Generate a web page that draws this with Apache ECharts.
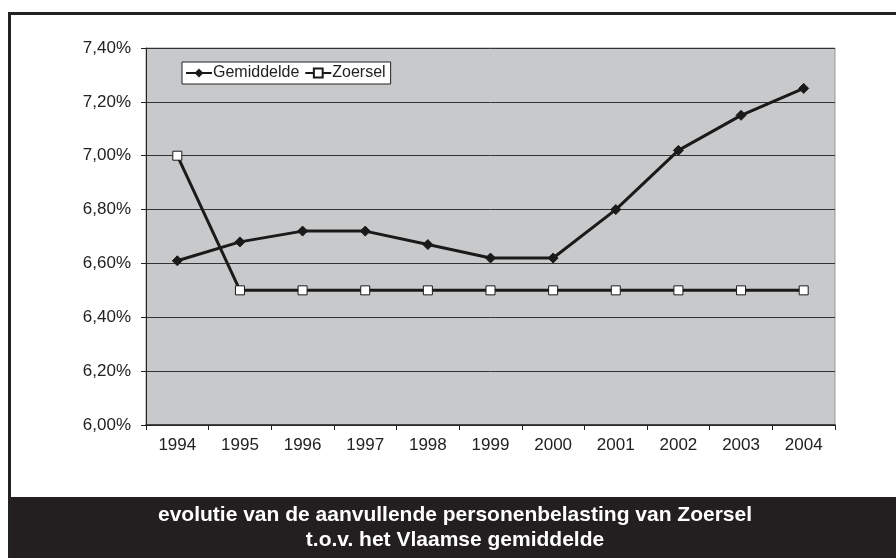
<!DOCTYPE html>
<html><head><meta charset="utf-8">
<script src="https://cdn.jsdelivr.net/npm/echarts@6/dist/echarts.min.js"></script>
<style>html,body{margin:0;padding:0;background:#fff}#c{width:896px;height:558px}</style>
</head><body><div id="c"></div>
<script>
const years = ['1994','1995','1996','1997','1998','1999','2000','2001','2002','2003','2004'];
const gemiddelde = [6.61, 6.68, 6.72, 6.72, 6.67, 6.62, 6.62, 6.80, 7.02, 7.15, 7.25];
const zoersel = [7.00, 6.50, 6.50, 6.50, 6.50, 6.50, 6.50, 6.50, 6.50, 6.50, 6.50];
const titleLines = ['evolutie van de aanvullende personenbelasting van Zoersel', 't.o.v. het Vlaamse gemiddelde'];

const chart = echarts.init(document.getElementById('c'), null, {renderer: 'canvas'});
const font = 'Liberation Sans, Arial, sans-serif';
chart.setOption({
  animation: false,
  backgroundColor: '#fff',
  graphic: [
    {type: 'rect', shape: {x: 9.5, y: 13.5, width: 900, height: 560}, style: {fill: 'none', stroke: '#222', lineWidth: 3}, z: 100},
    {type: 'rect', shape: {x: 9, y: 497, width: 900, height: 70}, style: {fill: '#231f20'}, z: 99},
    {type: 'text', x: 455, y: 515, style: {text: titleLines[0], fill: '#fff', font: 'bold 21px ' + font, textAlign: 'center', textVerticalAlign: 'middle'}, z: 101},
    {type: 'text', x: 455, y: 540, style: {text: titleLines[1], fill: '#fff', font: 'bold 21px ' + font, textAlign: 'center', textVerticalAlign: 'middle'}, z: 101}
  ],
  grid: {left: 146, right: 61, top: 48, bottom: 133, show: true, backgroundColor: '#c8c9cb', borderColor: '#999', borderWidth: 1},
  legend: {
    left: 182, top: 62, orient: 'horizontal',
    backgroundColor: '#fff', borderColor: '#222', borderWidth: 1, borderRadius: 0,
    padding: [3, 5, 3, 3], itemGap: 5, itemWidth: 26, itemHeight: 11,
    textStyle: {fontFamily: font, fontSize: 16, color: '#222', padding: [0,0,0,-4]},
    data: ['Gemiddelde', 'Zoersel']
  },
  xAxis: {
    type: 'category', data: years, boundaryGap: true,
    axisLine: {lineStyle: {color: '#222', width: 1.5}},
    axisTick: {show: true, alignWithLabel: false, length: 5, lineStyle: {color: '#222'}},
    axisLabel: {fontFamily: font, fontSize: 17, color: '#222', margin: 12}
  },
  yAxis: {
    type: 'value', min: 6.0, max: 7.4, interval: 0.2,
    axisLine: {show: true, lineStyle: {color: '#222', width: 1}},
    axisTick: {show: true, length: 5, lineStyle: {color: '#222'}},
    splitLine: {lineStyle: {color: '#333', width: 1}},
    axisLabel: {fontFamily: font, fontSize: 17, color: '#222', margin: 15,
      formatter: v => v.toFixed(2).replace('.', ',') + '%'}
  },
  series: [
    {name: 'Gemiddelde', type: 'line', data: gemiddelde, symbol: 'diamond', symbolSize: 10,
      lineStyle: {color: '#1a1a1a', width: 3}, itemStyle: {color: '#1a1a1a', borderColor: '#1a1a1a'}, z: 3},
    {name: 'Zoersel', type: 'line', data: zoersel, symbol: 'rect', symbolSize: 9, showAllSymbol: true,
      lineStyle: {color: '#1a1a1a', width: 3}, itemStyle: {color: '#fff', borderColor: '#1a1a1a', borderWidth: 1}, z: 2}
  ]
});
</script></body></html>
